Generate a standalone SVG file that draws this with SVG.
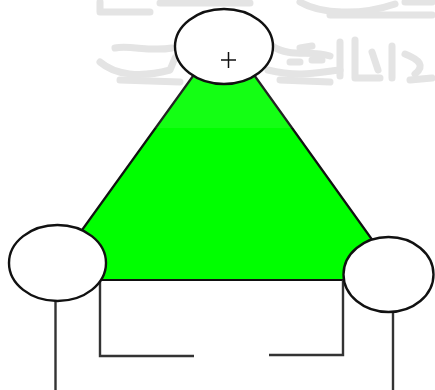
<svg xmlns="http://www.w3.org/2000/svg" width="435" height="390" viewBox="0 0 435 390">
<style>
.wm{fill:none;stroke:#e2e2e2;stroke-width:7;stroke-linecap:round;stroke-linejoin:round}
.node{fill:#ffffff;stroke:#111111;stroke-width:2.4}
.ln{fill:none;stroke:#333333;stroke-width:2.4}
</style>
<rect x="0" y="0" width="435" height="390" fill="#ffffff"/>
<g id="watermark">
<path class="wm" d="M100,2 L100,12 L150,12"/>
<path class="wm" d="M160,3 L250,3"/>
<path class="wm" d="M300,2 C320,14 360,16 395,4"/>
<path class="wm" d="M330,15 L432,15"/>
<path class="wm" d="M405,2 L432,2"/>
<path class="wm" d="M100,62 C115,75 140,78 170,70 L175,58"/>
<path class="wm" d="M115,48 C130,45 150,52 172,48"/>
<path class="wm" d="M120,80 L180,82"/>
<path class="wm" d="M196,42 L196,75 M206,44 L206,75 M272,46 C290,58 310,50 330,56"/>
<path class="wm" d="M268,70 C300,78 320,72 340,70"/>
<path class="wm" d="M290,62 L300,62 M312,60 L322,60 M300,48 L312,46 M280,80 L330,82"/>
<path class="wm" d="M340,42 L340,76 M355,40 L355,78 L380,78"/>
<path class="wm" d="M372,52 L378,70 M392,46 L392,78 M405,54 C420,60 425,66 415,74"/>
<path class="wm" d="M410,80 L432,78"/>
</g>
<g id="triangle">
<polygon points="224,33 46,280 401,280" fill="#00ff00" stroke="#111111" stroke-width="2.2"/>
<rect x="95" y="0" width="340" height="128" fill="#ffffff" opacity="0.08"/>
</g>
<g id="connectors">
<path class="ln" d="M100,280 L100,356 L194,356"/>
<path class="ln" d="M343,280 L343,355 L269,355"/>
<path class="ln" d="M55.5,300 L55.5,390"/>
<path class="ln" d="M393,312 L393,390"/>
</g>
<g id="node-top">
<ellipse class="node" cx="224" cy="46.5" rx="49" ry="37.5"/>
<path d="M221,60 L236,60 M228.5,52 L228.5,68" stroke="#111111" stroke-width="1.5" fill="none"/>
</g>
<g id="node-left">
<ellipse class="node" cx="57.5" cy="263" rx="48.5" ry="38"/>
</g>
<g id="node-right">
<ellipse class="node" cx="388.5" cy="274.5" rx="45" ry="37.5"/>
</g>
</svg>
